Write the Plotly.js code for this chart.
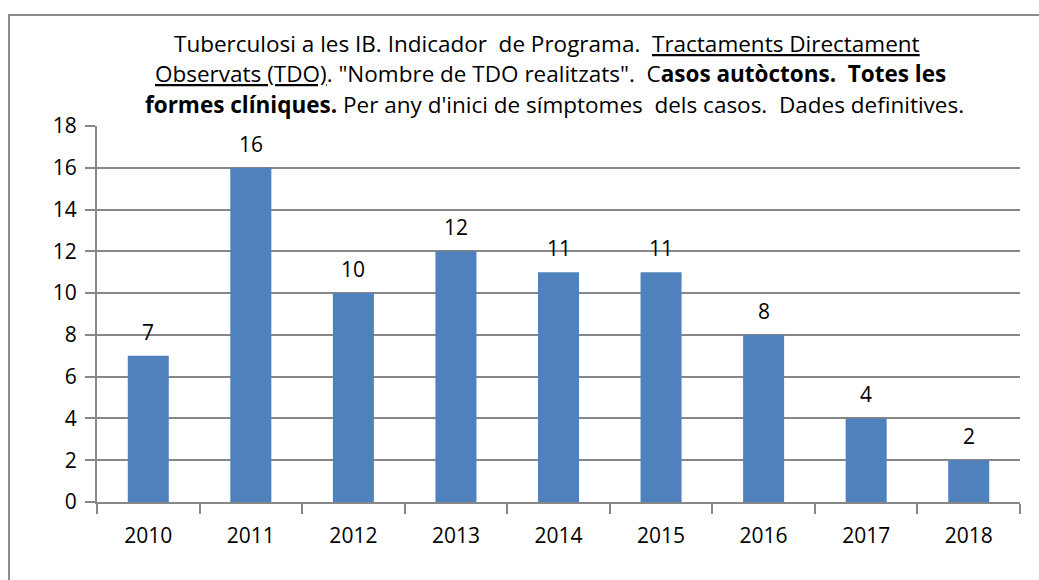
<!DOCTYPE html>
<html><head><meta charset="utf-8">
<script src="https://cdn.plot.ly/plotly-3.0.1.min.js"></script>
<style>
body{margin:0;padding:0;background:#fff;}
#frame{position:absolute;left:8px;top:14px;width:1100px;height:700px;border:2px solid #8c8c8c;box-sizing:border-box;pointer-events:none;z-index:5;}
#chart{position:absolute;left:0;top:0;width:1039px;height:580px;}
</style></head>
<body>
<div id="chart"></div>
<div id="frame"></div>
<script>
const years = ['2010','2011','2012','2013','2014','2015','2016','2017','2018'];
const values = [7,16,10,12,11,11,8,4,2];
const yTicks = [0,2,4,6,8,10,12,14,16,18];
const titleLines = [
  'Tuberculosi a les IB. Indicador  de Programa.  <span style="text-decoration:underline">Tractaments Directament</span>',
  '<span style="text-decoration:underline">Observats (TDO)</span>. "Nombre de TDO realitzats".  C<b>asos autòctons.  Totes les</b>',
  '<b>formes clíniques.</b> Per any d\'inici de símptomes  dels casos.  Dades definitives.'
];

const FONT = '"Open Sans", Arial, sans-serif';
const L = 97, R = 19, T = 126, B = 78, W = 1039, H = 580;
const pw = W - L - R, ph = H - T - B;
const px2x = p => (p - L) / pw;
const py2y = p => (H - B - p) / ph;

const titleCenters = [[547, 43], [550, 74], [554, 105]];
const annotations = titleLines.map((t, i) => ({
  xref:'paper', yref:'paper', x: px2x(titleCenters[i][0]), y: py2y(titleCenters[i][1]),
  xanchor:'center', yanchor:'middle', showarrow:false, text:t,
  font:{family:FONT, size:22.5, color:'#000'}
}));
years.forEach((yr, i) => annotations.push({
  xref:'x', yref:'y', x: i, y: values[i], xanchor:'center', yanchor:'bottom',
  yshift: 8, showarrow:false, text: String(values[i]),
  font:{family:FONT, size:21, color:'#000'}
}));

Plotly.newPlot('chart', [{
  type:'bar', x: years, y: values,
  marker:{color:'#4F81BD'},
  hoverinfo:'none'
}], {
  width:W, height:H,
  paper_bgcolor:'#fff', plot_bgcolor:'#fff',
  margin:{l:L, r:R, t:T, b:B},
  bargap:0.6,
  showlegend:false,
  font:{family:FONT, color:'#000'},
  annotations: annotations,
  xaxis:{type:'category', range:[-0.5, years.length - 0.5], showline:true, linecolor:'#878787', linewidth:2,
         ticks:'outside', tickson:'boundaries', ticklen:10, tickcolor:'#878787', tickwidth:2,
         tickfont:{family:FONT, size:21, color:'#000'}, showgrid:false, zeroline:false,
         ticklabelstandoff:14, tickangle:0},
  yaxis:{range:[0,18], tickvals:yTicks, showline:true, linecolor:'#878787', linewidth:2,
         ticks:'outside', ticklen:10, tickcolor:'#878787', tickwidth:2,
         showgrid:true, gridcolor:'#878787', gridwidth:2, zeroline:false,
         tickfont:{family:FONT, size:21, color:'#000'}, ticklabelstandoff:4}
}, {staticPlot:true});
</script>
</body></html>
